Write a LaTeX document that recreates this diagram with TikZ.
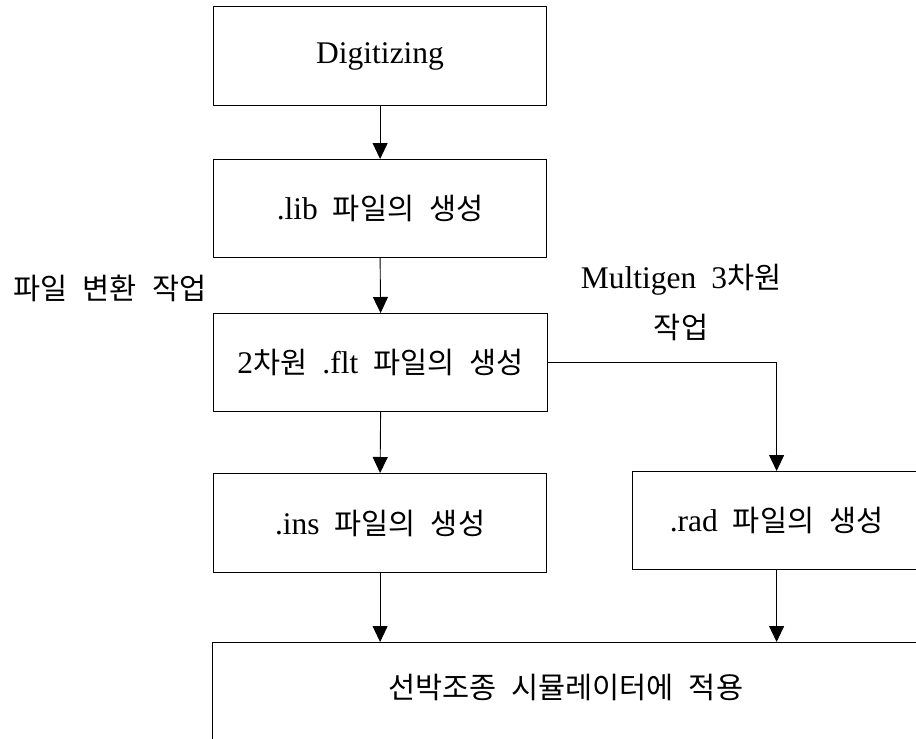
\documentclass[tikz,border=0pt]{standalone}
\usepackage{fontspec}
\setmainfont{Liberation Serif}
\newfontfamily\kr{Noto Sans CJK KR}[Scale=0.935]
\usetikzlibrary{arrows.meta}
% gap between words, Latin or Korean
\newcommand\wg{\hspace{15pt}}
\newcommand\K[1]{{\kr #1}}

\begin{document}
\begin{tikzpicture}[x=1pt,y=-1pt,
  box/.style={draw, line width=1.2pt, inner sep=0pt, anchor=north west,
    font=\fontsize{31.5}{36}\selectfont, align=center},
  flow/.style={-{Triangle[length=16pt,width=15pt]}, line width=0.9pt},
  note/.style={inner sep=0pt, align=center, font=\fontsize{31.5}{50}\selectfont}]

% page frame: boxes on the right and bottom run off the edge
\clip (0,0) rectangle (916,739);
\fill[white] (0,0) rectangle (916,739);

% process boxes
\node[box, minimum width=333pt, minimum height=99pt] (dig) at (213,6) {Digitizing};
\node[box, minimum width=333pt, minimum height=98pt] (lib) at (213,159)
  {.lib\wg\K{파일의}\wg\K{생성}};
\node[box, minimum width=334pt, minimum height=98pt] (flt) at (213,313)
  {2\K{차원}\wg.flt\wg\K{파일의}\wg\K{생성}};
\node[box, minimum width=333pt, minimum height=99pt] (ins) at (213,473)
  {.ins\wg\K{파일의}\wg\K{생성}};
\node[box, minimum width=288pt, minimum height=98pt] (rad) at (632,471)
  {.rad\wg\K{파일의}\wg\K{생성}};
\node[box, minimum width=706pt, minimum height=110pt,
      text height=24pt, text depth=22pt] (app) at (212,642)
  {\K{선박조종}\wg\K{시뮬레이터에}\wg\K{적용}};

% side labels
\node[note] (conv) at (110,288) {\K{파일}\wg\K{변환}\wg\K{작업}};
\node[note] (multi) at (681,302) {Multigen\wg3\K{차원}\\\K{작업}};

% connectors
\draw[flow] (dig.south) -- (lib.north);
\draw[flow] (lib.south) -- (flt.north);
\draw[flow] (flt.south) -- (ins.north);
\draw[flow] (flt.east) -| (rad.north);
\draw[flow] (ins.south) -- (ins.south |- app.north);
\draw[flow] (rad.south) -- (rad.south |- app.north);
\end{tikzpicture}
\end{document}
